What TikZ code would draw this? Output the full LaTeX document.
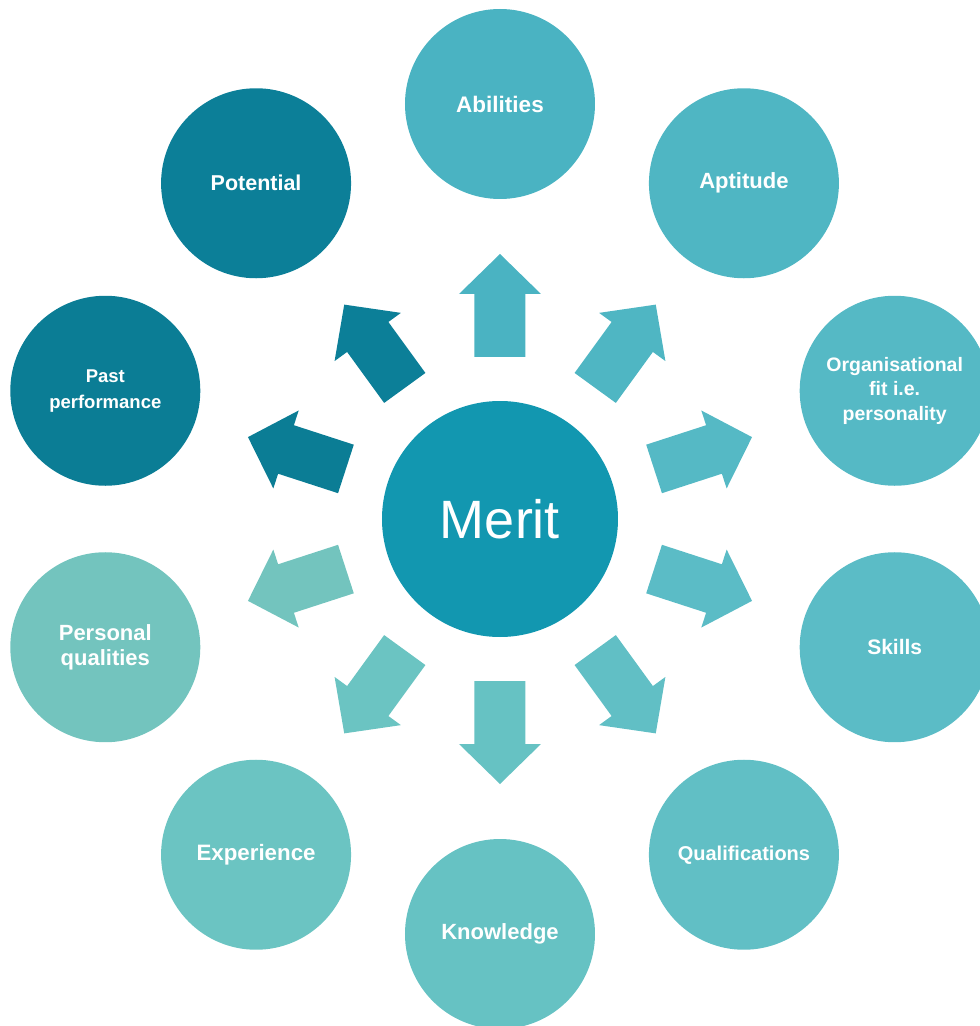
\documentclass[tikz,border=0pt]{standalone}
\usepackage{fontspec}
\setmainfont{Liberation Sans}
\definecolor{cAbil}{HTML}{4AB3C2}
\definecolor{cApt}{HTML}{4FB6C3}
\definecolor{cOrg}{HTML}{55B9C5}
\definecolor{cSkill}{HTML}{5BBCC6}
\definecolor{cQual}{HTML}{61BFC5}
\definecolor{cKnow}{HTML}{66C2C3}
\definecolor{cExp}{HTML}{6BC4C2}
\definecolor{cPers}{HTML}{73C4BE}
\definecolor{cPast}{HTML}{0B7D95}
\definecolor{cPot}{HTML}{0C7F98}
\definecolor{cMerit}{HTML}{1297B0}
\newcommand\blockarrow[2]{%
  \fill[#2, shift={(m.center)}, rotate=#1]
    (162,-25.5) -- (225,-25.5) -- (225,-41) -- (265,0) -- (225,41) -- (225,25.5) -- (162,25.5) -- cycle;}
\begin{document}
\begin{tikzpicture}[x=1pt,y=1pt,
  outer/.style={circle, minimum size=190pt, inner sep=0pt, text=white, align=center,
    font=\bfseries\fontsize{22}{25}\selectfont},
  smalltxt/.style={font=\bfseries\fontsize{19.5}{24.5}\selectfont}]
\useasboundingbox (-500,-507) rectangle (480,519);
\clip (-500,-507) rectangle (480,519);
\node[circle, fill=cMerit, minimum size=236pt, inner sep=0pt, text=white,
  font=\fontsize{54}{60}\selectfont] (m) at (0,0) {Merit};
\node[outer, fill=cAbil, font=\bfseries\fontsize{22.5}{25}\selectfont] (abil) at (90:415) {Abilities};
\node[outer, fill=cApt] (apt) at (54:415) {Aptitude};
\node[outer, fill=cOrg, smalltxt] (org) at (18:415) {Organisational\\fit i.e.\\personality};
\node[outer, fill=cSkill, font=\bfseries\fontsize{21}{25}\selectfont] (skill) at (-18:415) {Skills};
\node[outer, fill=cQual, font=\bfseries\fontsize{20}{25}\selectfont] (qual) at (-54:415) {Qualifications};
\node[outer, fill=cKnow] (know) at (-90:415) {Knowledge};
\node[outer, fill=cExp, font=\bfseries\fontsize{22.3}{25}\selectfont] (exp) at (-126:415) {Experience};
\node[outer, fill=cPers] (pers) at (-162:415) {Personal\\qualities};
\node[outer, fill=cPast, font=\bfseries\fontsize{18.5}{26}\selectfont] (past) at (162:415) {Past\\performance};
\node[outer, fill=cPot, font=\bfseries\fontsize{21.5}{25}\selectfont] (pot) at (126:415) {Potential};
\blockarrow{90}{cAbil}
\blockarrow{54}{cApt}
\blockarrow{18}{cOrg}
\blockarrow{-18}{cSkill}
\blockarrow{-54}{cQual}
\blockarrow{-90}{cKnow}
\blockarrow{-126}{cExp}
\blockarrow{-162}{cPers}
\blockarrow{162}{cPast}
\blockarrow{126}{cPot}
\end{tikzpicture}
\end{document}
